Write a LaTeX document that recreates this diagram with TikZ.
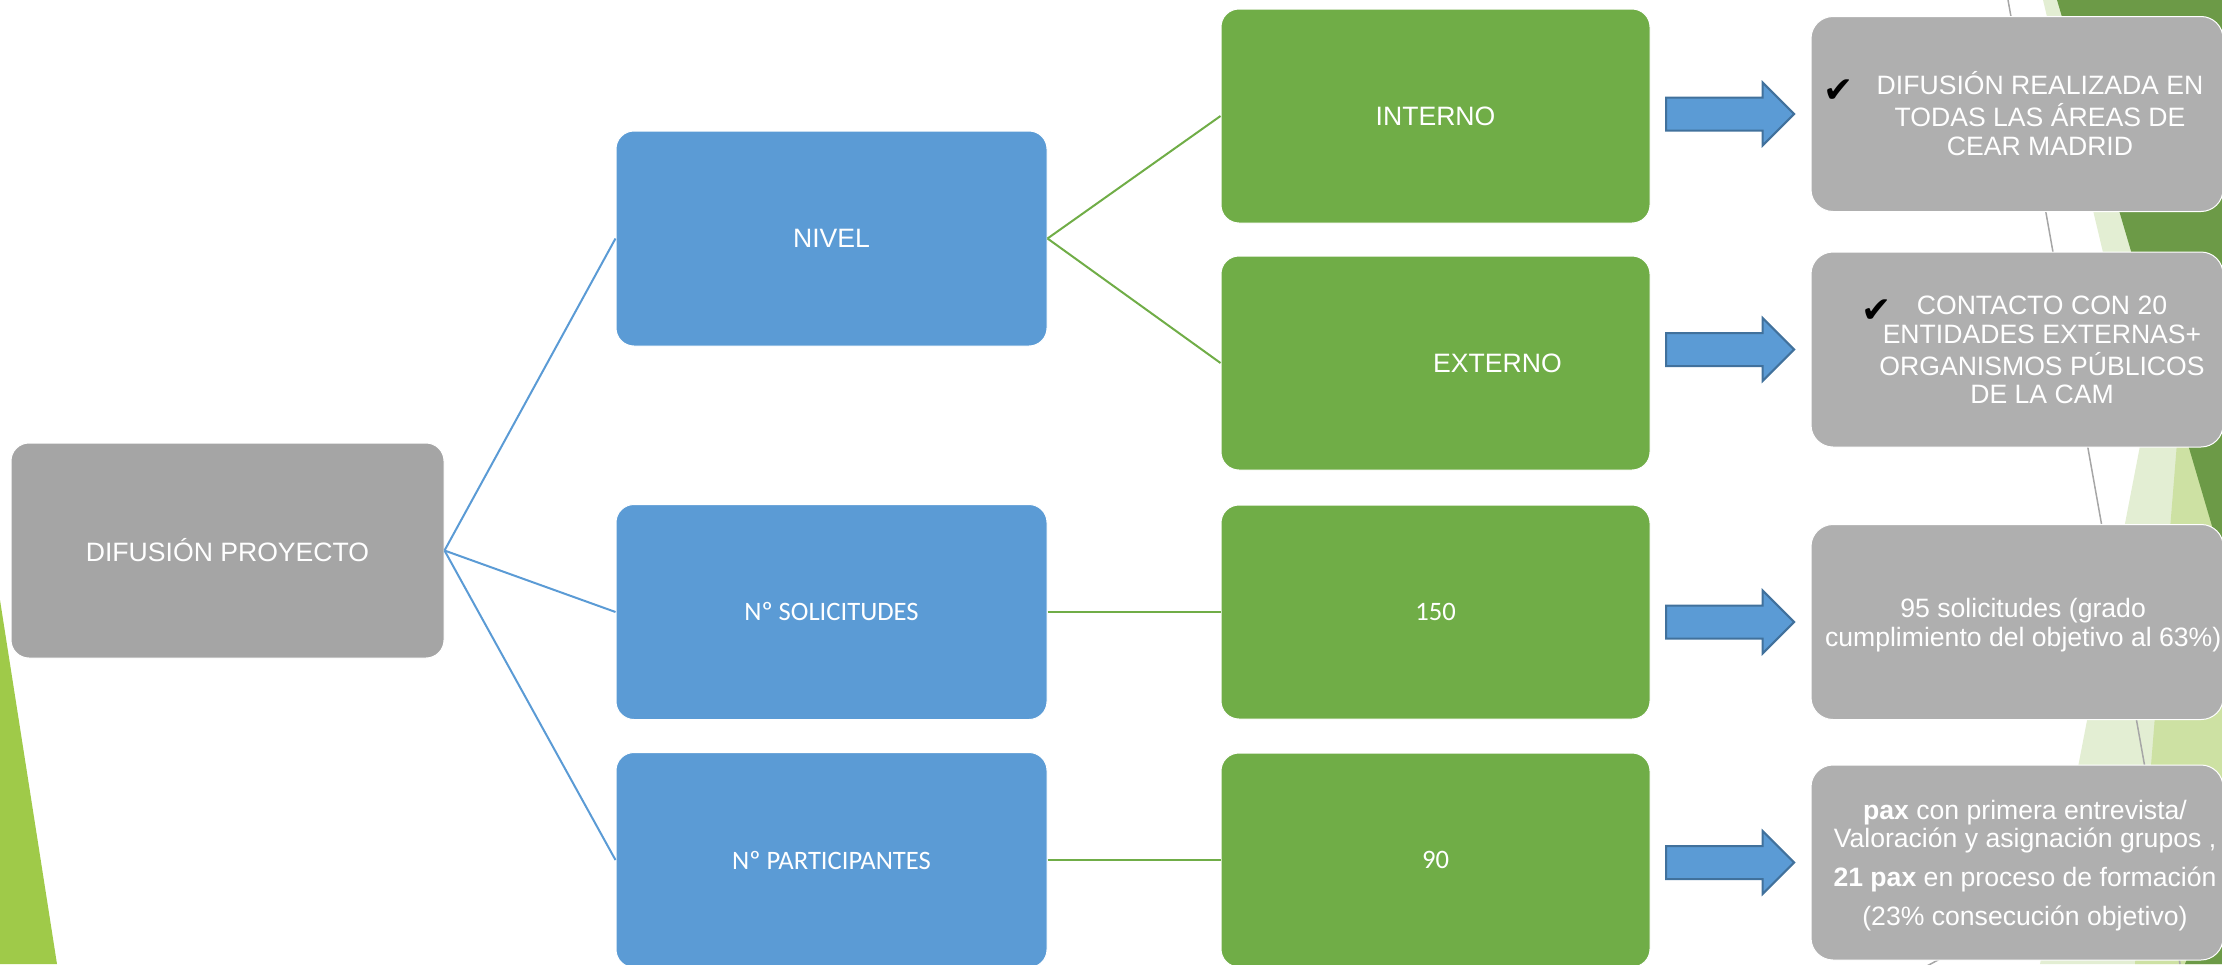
\documentclass[tikz,border=0pt]{standalone}
\usepackage{fontspec}
\setmainfont{Liberation Sans}
\newfontfamily\calfont{Carlito}
\newfontfamily\symfont{DejaVu Sans}
\usepackage{tikz}
\usetikzlibrary{positioning, shapes.arrows}
\usepackage{xcolor}
\definecolor{rootgray}{HTML}{A5A5A5}
\definecolor{resgray}{HTML}{AFAFAF}
\definecolor{boxblue}{HTML}{5B9BD5}
\definecolor{arrowblue}{HTML}{41719C}
\definecolor{boxgreen}{HTML}{70AD47}
\definecolor{limegreen}{HTML}{9FCA49}
\definecolor{darkgreen}{HTML}{6C9A47}
\definecolor{palegreen}{HTML}{E3EED3}
\definecolor{lightgreen}{HTML}{CDE1A3}
\definecolor{facetline}{HTML}{A6A6A6}
\tikzstyle{basebox} = [rectangle, rounded corners=9pt, draw=white, line width=0.5pt, text=white, font=\fontsize{13.3}{14.4}\selectfont, inner sep=1pt]
\tikzstyle{rootbox} = [basebox, fill=rootgray, minimum width=216.5pt, minimum height=107.5pt]
\tikzstyle{levelbox} = [basebox, fill=boxblue, minimum width=215.5pt, minimum height=107.5pt]
\tikzstyle{valuebox} = [basebox, fill=boxgreen, minimum width=214.5pt, minimum height=107pt]
\tikzstyle{resultbox} = [basebox, fill=resgray, rounded corners=11pt, minimum width=206pt, minimum height=97.5pt]
\tikzstyle{bluelink} = [draw, boxblue, line width=1pt]
\tikzstyle{greenlink} = [draw, boxgreen, line width=1pt]
\tikzstyle{bigarrow} = [single arrow, draw=arrowblue, fill=boxblue, line width=1pt, minimum height=64pt, inner xsep=0pt, inner ysep=7.75pt, single arrow head extend=7.5pt]
\newcommand{\tick}[1]{\llap{\smash{\raisebox{-4pt}{\color{black}\symfont\fontsize{18}{18}\selectfont ✔}}\hspace{#1}}}
\newcommand{\restext}[2]{\hspace*{#1}\raisebox{-2pt}[\height][\depth]{\begin{tabular}{@{}c@{}}#2\end{tabular}}}

\begin{document}
\begin{tikzpicture}[x=0.5pt, y=-0.5pt]
    \useasboundingbox (0,0) rectangle (2222,964);
    % Background facets
    \fill[limegreen] (0,600) -- (57,964) -- (0,964) -- cycle;
    \fill[palegreen] (2043,0) -- (2222,0) -- (2222,964) -- (2040,964) -- (2144,425) -- cycle;
    \fill[lightgreen] (2178,430) -- (2222,300) -- (2222,964) -- (2135,964) -- cycle;
    \fill[darkgreen] (2057,0) -- (2222,0) -- (2222,560) -- cycle;
    \fill[darkgreen] (2185,964) -- (2222,964) -- (2222,870) -- cycle;
    \draw[facetline, line width=0.75pt] (2008,0) -- (2180,964);
    \draw[facetline, line width=0.75pt] (1925,967) -- (1990,932);

    % Create Blocks
    \node [rootbox] (root) at (227.5,550.5) {DIFUSIÓN PROYECTO};
    \node [levelbox, right=85.5pt of root, yshift=-30.75pt] (sol) {\calfont Nº SOLICITUDES};
    \node [levelbox, above=78.75pt of sol] (nivel) {NIVEL};
    \node [levelbox, below=16pt of sol] (part) {\calfont Nº PARTICIPANTES};

    \node [valuebox, right=86.5pt of sol] (v150) {\calfont 150};
    \node [valuebox, right=86.5pt of part] (v90) {\calfont 90};
    \node [valuebox, above=17pt of v150] (ext) {\hspace*{62pt}EXTERNO};
    \node [valuebox, above=16pt of ext] (int) {INTERNO};

    \node [resultbox, right=80pt of int, yshift=1pt] (res1) {\restext{23pt}{\tick{11.5pt}DIFUSIÓN REALIZADA EN\\TODAS LAS ÁREAS DE\\CEAR MADRID}};
    \node [resultbox, right=80pt of ext, yshift=6.75pt] (res2) {\restext{25pt}{\tick{12.5pt}CONTACTO CON 20\\ENTIDADES EXTERNAS+\\ORGANISMOS PÚBLICOS\\DE LA CAM}};
    \node [resultbox, right=80pt of v150, yshift=-5pt] (res3) {\restext{6pt}{95 solicitudes (grado\\cumplimiento del objetivo al 63\%)}};
    \node [resultbox, right=80pt of v90, yshift=-1.25pt] (res4) {\restext{8pt}{\textbf{pax} con primera entrevista/\\Valoración y asignación grupos ,\\[5pt]\textbf{21 pax} en proceso de formación\\[5pt](23\% consecución objetivo)}};

    % Add Arrows
    \node [bigarrow, left=7.5pt of res1] (arr1) {};
    \node [bigarrow, left=7.5pt of res2] (arr2) {};
    \node [bigarrow, left=7.5pt of res3] (arr3) {};
    \node [bigarrow, left=7.5pt of res4] (arr4) {};

    \path [bluelink] (root.east) -- (nivel.west);
    \path [bluelink] (root.east) -- (sol.west);
    \path [bluelink] (root.east) -- (part.west);
    \path [greenlink] (nivel.east) -- (int.west);
    \path [greenlink] (nivel.east) -- (ext.west);
    \path [greenlink] (sol.east) -- (v150.west);
    \path [greenlink] (part.east) -- (v90.west);
\end{tikzpicture}
\end{document}
